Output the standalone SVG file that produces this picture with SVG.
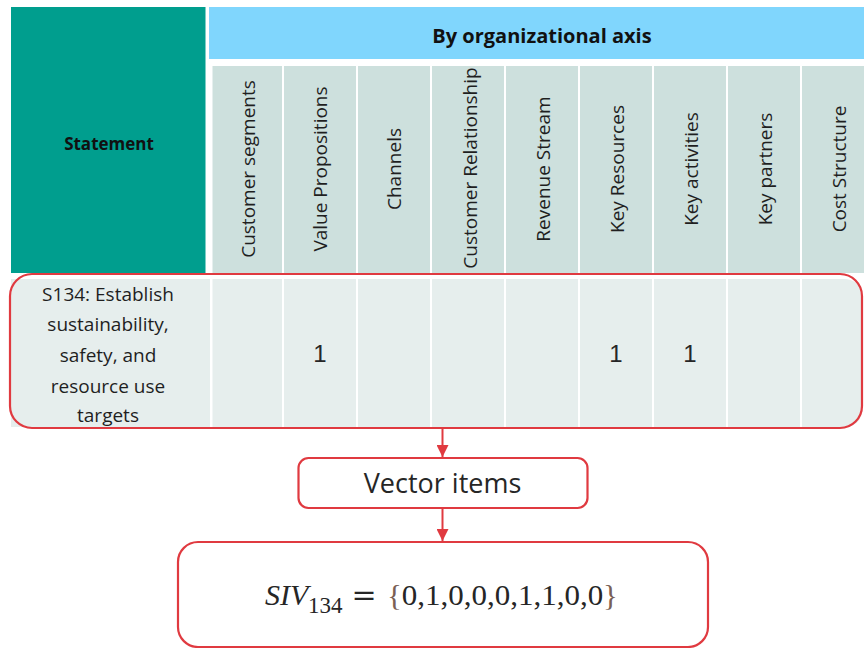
<svg xmlns="http://www.w3.org/2000/svg" width="864" height="648" viewBox="0 0 864 648">
<defs>
<style>
.hdr{fill:#cde0dd}
.cell{fill:#e6eeed}
.lbl{font-family:"Open Sans","Liberation Sans",sans-serif;font-size:19px;fill:#1f1f1f;text-anchor:middle}
.num{font-family:"Liberation Sans",Arial,sans-serif;font-size:24px;fill:#262626;text-anchor:middle}
.red{fill:none;stroke:#e03a40;stroke-width:2.2}
.conn{stroke:#e03a40;stroke-width:2;fill:none}
.math{font-family:"Liberation Serif","Times New Roman",serif;fill:#262626}
</style>
<marker id="arr" viewBox="0 0 12 12" refX="12" refY="6" markerWidth="12" markerHeight="12" markerUnits="userSpaceOnUse" orient="auto">
<path d="M0,0 L12,6 L0,12 Z" fill="#e03a40"/>
</marker>
</defs>
<rect width="864" height="648" fill="#ffffff"/>

<g id="table-header">
<rect x="11" y="7" width="194.5" height="266" fill="#009e8e"/>
<text x="109" y="150" font-family="'Open Sans','Liberation Sans',sans-serif" font-size="17" font-weight="bold" fill="#111" text-anchor="middle">Statement</text>
<rect x="209" y="7" width="655" height="52" fill="#80d6fd"/>
<text x="542" y="43" font-family="'Open Sans','Liberation Sans',sans-serif" font-size="20" font-weight="bold" fill="#111" text-anchor="middle">By organizational axis</text>
<rect class="hdr" x="212.5" y="66" width="69.5" height="207"/>
<rect class="hdr" x="284" y="66" width="72" height="207"/>
<rect class="hdr" x="358" y="66" width="72" height="207"/>
<rect class="hdr" x="432" y="66" width="72" height="207"/>
<rect class="hdr" x="506" y="66" width="72" height="207"/>
<rect class="hdr" x="580" y="66" width="72" height="207"/>
<rect class="hdr" x="654" y="66" width="72" height="207"/>
<rect class="hdr" x="728" y="66" width="72" height="207"/>
<rect class="hdr" x="802" y="66" width="72" height="207"/>
<text class="lbl" transform="translate(255,169) rotate(-90)">Customer segments</text>
<text class="lbl" transform="translate(327,169) rotate(-90)">Value Propositions</text>
<text class="lbl" transform="translate(401,169) rotate(-90)">Channels</text>
<text class="lbl" transform="translate(477,168) rotate(-90)">Customer Relationship</text>
<text class="lbl" transform="translate(550,169) rotate(-90)">Revenue Stream</text>
<text class="lbl" transform="translate(624,169) rotate(-90)">Key Resources</text>
<text class="lbl" transform="translate(698,169) rotate(-90)">Key activities</text>
<text class="lbl" transform="translate(772,169) rotate(-90)">Key partners</text>
<text class="lbl" transform="translate(846,169) rotate(-90)">Cost Structure</text>
</g>

<g id="statement-row">
<rect class="cell" x="11" y="279" width="199" height="148"/>
<rect class="cell" x="212.5" y="279" width="69.5" height="148"/>
<rect class="cell" x="284" y="279" width="72" height="148"/>
<rect class="cell" x="358" y="279" width="72" height="148"/>
<rect class="cell" x="432" y="279" width="72" height="148"/>
<rect class="cell" x="506" y="279" width="72" height="148"/>
<rect class="cell" x="580" y="279" width="72" height="148"/>
<rect class="cell" x="654" y="279" width="72" height="148"/>
<rect class="cell" x="728" y="279" width="72" height="148"/>
<path class="cell" d="M802,279 H843 Q862,279 862,298 V408 Q862,427 843,427 H802 Z"/>
<text class="lbl" x="108" y="301">S134: Establish</text>
<text class="lbl" x="108" y="331">sustainability,</text>
<text class="lbl" x="108" y="362">safety, and</text>
<text class="lbl" x="108" y="393">resource use</text>
<text class="lbl" x="108" y="422">targets</text>
<text class="num" x="320" y="362">1</text>
<text class="num" x="616" y="362">1</text>
<text class="num" x="690" y="362">1</text>
<rect class="red" x="10" y="274" width="852" height="154" rx="22" ry="22"/>
</g>

<g id="connectors">
<line class="conn" x1="442.5" y1="428" x2="442.5" y2="457" marker-end="url(#arr)"/>
<line class="conn" x1="442.5" y1="508" x2="442.5" y2="541" marker-end="url(#arr)"/>
</g>

<g id="vector-items">
<rect class="red" x="298.5" y="458" width="289" height="50" rx="10" ry="10"/>
<text x="442.5" y="493" font-family="'Open Sans','Liberation Sans',sans-serif" font-size="27" fill="#262626" text-anchor="middle">Vector items</text>
</g>

<g id="siv-formula">
<rect class="red" x="178" y="542" width="530" height="105" rx="20" ry="20"/>
<text class="math" x="265" y="605" font-size="30" font-style="italic">SIV</text>
<text class="math" x="308" y="613" font-size="23">134</text>
<text x="364" y="605" font-family="'DejaVu Serif',serif" font-size="30" fill="#262626" text-anchor="middle">=</text>
<text class="math" x="387" y="605" font-size="30" textLength="231" lengthAdjust="spacingAndGlyphs"><tspan fill="#7a6055">{</tspan>0,1,0,0,0,1,1,0,0<tspan fill="#7a6055">}</tspan></text>
</g>
</svg>
